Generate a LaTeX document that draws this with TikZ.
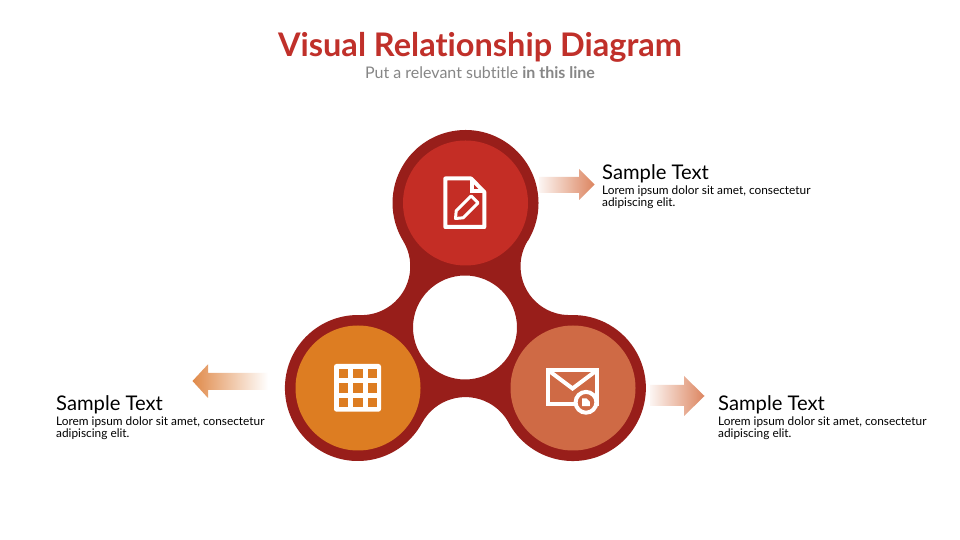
\documentclass[tikz,border=0pt]{standalone}
\usepackage{fontspec}
\setmainfont{Lato}[Ligatures=NoCommon]
\usetikzlibrary{calc}
\definecolor{ringc}{HTML}{981E1A}
\definecolor{topc}{HTML}{C42D25}
\definecolor{leftc}{HTML}{DD7D22}
\definecolor{rightc}{HTML}{CF6A45}
\definecolor{titlec}{HTML}{C0302A}
\definecolor{subc}{HTML}{868686}
\definecolor{arrowa}{HTML}{DC8560}
\definecolor{arrowb}{HTML}{E08A4A}
\tikzset{
 x=1pt,y=1pt,
 icon/.style={draw=white,line width=4pt,line join=miter},
 head/.style={anchor=base west,inner sep=0pt,font=\fontsize{20.2}{22}\selectfont},
 body/.style={anchor=north west,inner sep=0pt,align=left,font=\fontsize{11.85}{10.4}\selectfont},
 disc/.style={circle,minimum size=125pt,inner sep=0pt,draw=none}
}
\newcommand{\lorem}{Lorem ipsum dolor sit amet, consectetur\\adipiscing elit.}
\begin{document}
\begin{tikzpicture}
\useasboundingbox (0,0) rectangle (960,540);
\fill[white] (0,0) rectangle (960,540);
\node (title) at (480,493) [inner sep=0pt,text=titlec,font=\fontsize{32.5}{36}\selectfont\bfseries] {Visual Relationship Diagram};
\node (sub) at (480,467) [inner sep=0pt,text=subc,font=\fontsize{16}{18}\selectfont] {Put a relevant subtitle \textbf{in this line}};
% body
\coordinate (T) at (465.5,337);
\coordinate (L) at (358,152);
\coordinate (R) at (573,152);
\fill[ringc,even odd rule] ($(T)+(-31.35:73)$) arc[start angle=-31.35,end angle=211.35,radius=73]
  arc[start angle=31.35,end angle=-91.7,radius=48.75]
  arc[start angle=88.3,end angle=331.5,radius=73]
  arc[start angle=151.5,end angle=28.5,radius=49.3]
  arc[start angle=208.5,end angle=451.7,radius=73]
  arc[start angle=-88.3,end angle=-211.35,radius=48.75] -- cycle
  (465,212.5) circle[radius=52];
\node[disc,fill=topc] (nT) at (T) {};
\node[disc,fill=leftc] (nL) at (L) {};
\node[disc,fill=rightc] (nR) at (R) {};
% doc icon
\draw[icon,line join=round] (471,361.5) -- (445.3,361.5) -- (445.3,313) -- (484.3,313) -- (484.3,348) -- cycle;
\draw[icon,line width=3.4pt] (472,361) -- (472,349) -- (484,349);
\draw[draw=white,line width=3pt,line join=round] (455.5,321.5) -- (463.2,322.2) -- (478.1,337.1) -- (471.1,344.1) -- (456.2,329.2) -- cycle;
% table icon
\fill[white,rounded corners=2.5pt] (334,128.3) rectangle (381,176);
\foreach \cx in {339,353.4,367.8}{\foreach \cy in {133,147.4,161.8}{
  \fill[leftc] (\cx,\cy) rectangle ++(9.3,9.3);}}
% mail icon
\draw[icon] (548,170.3) rectangle (597.2,136);
\draw[icon] (548.5,169.5) -- (572.5,151.5) -- (596.5,169.5);
\draw[fill=rightc,draw=white,line width=4pt] (586,137.7) circle[radius=10.4];
\fill[white] (582.2,133.8) -- (582.2,141.6) -- (586.6,141.6) -- (589.8,138.4) -- (589.8,133.8) -- cycle;
% arrows
\shade[left color=arrowa!8,right color=arrowa] (539,363) -- (579,363) -- (579,371) -- (594.5,355.5) -- (579,340) -- (579,347) -- (539,347) -- cycle;
\shade[left color=arrowa!8,right color=arrowa] (650,155) -- (684,155) -- (684,164) -- (704.5,144) -- (684,124) -- (684,134) -- (650,134) -- cycle;
\shade[left color=arrowb,right color=white] (268,167) -- (208,167) -- (208,175.7) -- (192.5,159) -- (208,142) -- (208,150) -- (268,150) -- cycle;
% texts
\node[head] (h1) at (602,360.7) {Sample Text};
\node[body] (b1) at (602,354.4) {\lorem};
\node[head] (h2) at (56,129.7) {Sample Text};
\node[body] (b2) at (56,123.4) {\lorem};
\node[head] (h3) at (718,129.7) {Sample Text};
\node[body] (b3) at (718,123.4) {\lorem};
\end{tikzpicture}
\end{document}
